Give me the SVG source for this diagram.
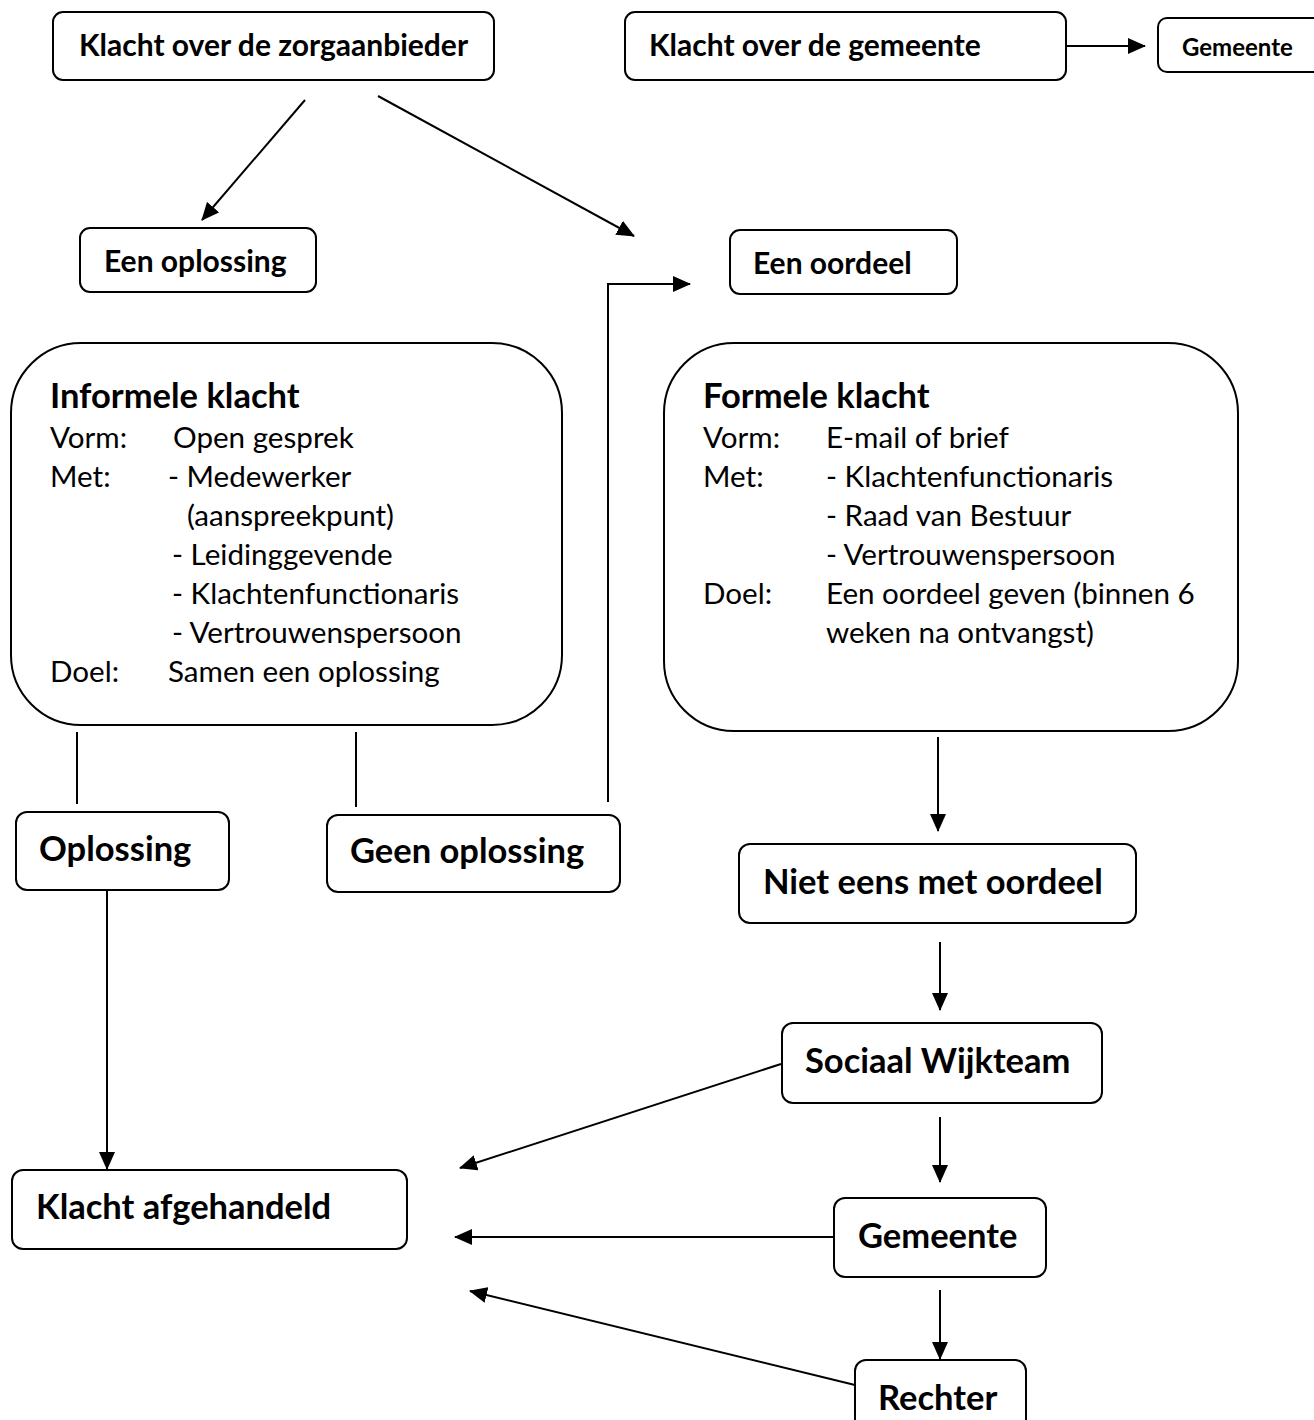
<svg xmlns="http://www.w3.org/2000/svg" width="1314" height="1420" viewBox="0 0 1314 1420">
<defs>
<marker id="ah" markerUnits="userSpaceOnUse" markerWidth="18" markerHeight="16" refX="17" refY="8" orient="auto">
<path d="M0,0 L18,8 L0,16 Z" fill="#000"/>
</marker>
<style>
.box{fill:#fff;stroke:#000;stroke-width:2}
.lbl{font-family:Lato,"Open Sans",sans-serif;font-weight:bold;fill:#000}
.m{font-size:30px}
.l{font-size:34.5px}
.s{font-size:24px}
.body{font-family:Lato,"Open Sans",sans-serif;font-size:29.6px;fill:#000}
.c{fill:none;stroke:#000;stroke-width:2}
.a{fill:none;stroke:#000;stroke-width:2;marker-end:url(#ah)}
</style>
</defs>
<rect width="1314" height="1420" fill="#fff"/>
<g id="connectors">
<line class="a" x1="1067" y1="46" x2="1145" y2="46"/>
<line class="a" x1="305" y1="100" x2="202" y2="220"/>
<line class="a" x1="378" y1="96" x2="634" y2="236"/>
<polyline class="a" points="608,802 608,284 690,284"/>
<line class="c" x1="77" y1="732" x2="77" y2="804"/>
<line class="c" x1="356" y1="732" x2="356" y2="807"/>
<line class="a" x1="107" y1="891" x2="107" y2="1169"/>
<line class="a" x1="938" y1="737" x2="938" y2="831"/>
<line class="a" x1="940" y1="942" x2="940" y2="1010"/>
<line class="a" x1="940" y1="1117" x2="940" y2="1182"/>
<line class="a" x1="940" y1="1290" x2="940" y2="1359"/>
<line class="a" x1="781" y1="1064" x2="460" y2="1168"/>
<line class="a" x1="834" y1="1237" x2="455" y2="1237"/>
<line class="a" x1="855" y1="1385" x2="470" y2="1291"/>
</g>
<g id="n-zorgaanbieder"><rect class="box" x="53" y="12" width="441" height="68" rx="10"/><text class="lbl m" x="79" y="56">Klacht over de zorgaanbieder</text></g>
<g id="n-gemeente-klacht"><rect class="box" x="625" y="12" width="441" height="68" rx="10"/><text class="lbl m" x="649" y="56">Klacht over de gemeente</text></g>
<g id="n-gemeente-top"><rect class="box" x="1158" y="18" width="166" height="54" rx="9"/><text class="lbl s" x="1182" y="56">Gemeente</text></g>
<g id="n-een-oplossing"><rect class="box" x="80" y="228" width="236" height="64" rx="10"/><text class="lbl m" x="104" y="272">Een oplossing</text></g>
<g id="n-een-oordeel"><rect class="box" x="730" y="230" width="227" height="64" rx="10"/><text class="lbl m" x="753" y="274">Een oordeel</text></g>
<g id="n-informeel">
<rect class="box" x="11" y="343" width="551" height="382" rx="70"/>
<text class="lbl l" x="50" y="408">Informele klacht</text>
<text class="body" x="50" y="448">Vorm:</text><text class="body" x="173" y="448">Open gesprek</text>
<text class="body" x="50" y="487">Met:</text><text class="body" x="168" y="487">- Medewerker</text>
<text class="body" x="187" y="526">(aanspreekpunt)</text>
<text class="body" x="172" y="565">- Leidinggevende</text>
<text class="body" x="172" y="604">- Klachtenfunctionaris</text>
<text class="body" x="172" y="643">- Vertrouwenspersoon</text>
<text class="body" x="50" y="682">Doel:</text><text class="body" x="168" y="682">Samen een oplossing</text>
</g>
<g id="n-formeel">
<rect class="box" x="664" y="343" width="574" height="388" rx="70"/>
<text class="lbl l" x="703" y="408">Formele klacht</text>
<text class="body" x="703" y="448">Vorm:</text><text class="body" x="826" y="448">E-mail of brief</text>
<text class="body" x="703" y="487">Met:</text><text class="body" x="826" y="487">- Klachtenfunctionaris</text>
<text class="body" x="826" y="526">- Raad van Bestuur</text>
<text class="body" x="826" y="565">- Vertrouwenspersoon</text>
<text class="body" x="703" y="604">Doel:</text><text class="body" x="826" y="604">Een oordeel geven (binnen 6</text>
<text class="body" x="826" y="643">weken na ontvangst)</text>
</g>
<g id="n-oplossing"><rect class="box" x="16" y="812" width="213" height="78" rx="11"/><text class="lbl l" x="39" y="861">Oplossing</text></g>
<g id="n-geen-oplossing"><rect class="box" x="327" y="815" width="293" height="77" rx="11"/><text class="lbl l" x="350" y="863">Geen oplossing</text></g>
<g id="n-niet-eens"><rect class="box" x="739" y="844" width="397" height="79" rx="11"/><text class="lbl l" x="763" y="894">Niet eens met oordeel</text></g>
<g id="n-wijkteam"><rect class="box" x="782" y="1023" width="320" height="80" rx="11"/><text class="lbl l" x="805" y="1073">Sociaal Wijkteam</text></g>
<g id="n-afgehandeld"><rect class="box" x="12" y="1170" width="395" height="79" rx="11"/><text class="lbl l" x="36" y="1219">Klacht afgehandeld</text></g>
<g id="n-gemeente"><rect class="box" x="834" y="1198" width="212" height="79" rx="11"/><text class="lbl l" x="858" y="1248">Gemeente</text></g>
<g id="n-rechter"><rect class="box" x="855" y="1360" width="171" height="80" rx="11"/><text class="lbl l" x="878" y="1410">Rechter</text></g>
</svg>
